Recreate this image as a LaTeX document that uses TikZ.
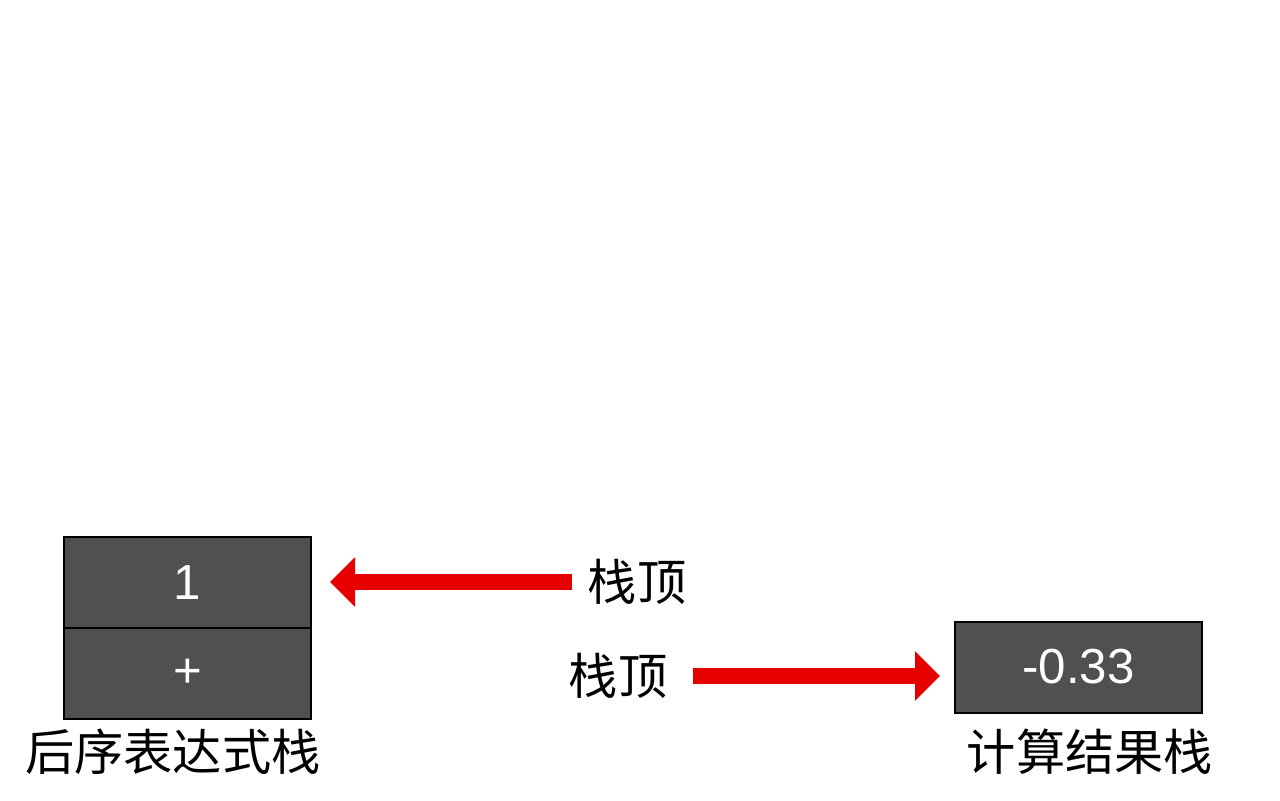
\documentclass[tikz,border=0pt]{standalone}
\usepackage{fontspec}
\setmainfont{Liberation Sans}
\newfontfamily\cjk{Noto Sans CJK SC}
\usepackage{tikz}
\usetikzlibrary{arrows.meta, positioning, calc}
\definecolor{cellgray}{RGB}{80,80,80}
\definecolor{ptrred}{RGB}{230,0,0}
\tikzset{
  cell/.style={rectangle, draw=black, fill=cellgray, line width=0.4mm, outer sep=0pt,
    minimum width=49.4mm, minimum height=18.2mm, inner sep=0pt,
    text=white, font=\fontsize{28pt}{32pt}\selectfont},
  stklbl/.style={inner sep=0pt, font=\fontsize{28pt}{32pt}\selectfont\cjk},
  ptr/.style={-{Triangle[length=5mm, width=9.6mm]}, line width=3.2mm, ptrred}
}
\begin{document}
\begin{tikzpicture}[x=0.2mm, y=-0.2mm]
  \useasboundingbox (0,0) rectangle (1280,800);
  % postfix expression stack
  \node[cell] (post1) at (187.5,582.5) {1};
  \node[cell, below=0pt of post1] (post2) {+};
  \node[stklbl] (postname) at (173,752) {后序表达式栈};
  % result stack
  \node[cell] (res1) at (1078.5,667) {-0.33};
  \node[stklbl] (resname) at (1090,752) {计算结果栈};
  % stack top pointers
  \node[stklbl] (top1) at (637,582) {栈顶};
  \node[stklbl] (top2) at (618,676) {栈顶};
  \draw[ptr, shorten <=3mm, shorten >=3.8mm] (top1.west) -- (post1.east |- top1.west);
  \draw[ptr, shorten <=5mm, shorten >=3mm] (top2.east) -- (res1.west |- top2.east);
\end{tikzpicture}
\end{document}
